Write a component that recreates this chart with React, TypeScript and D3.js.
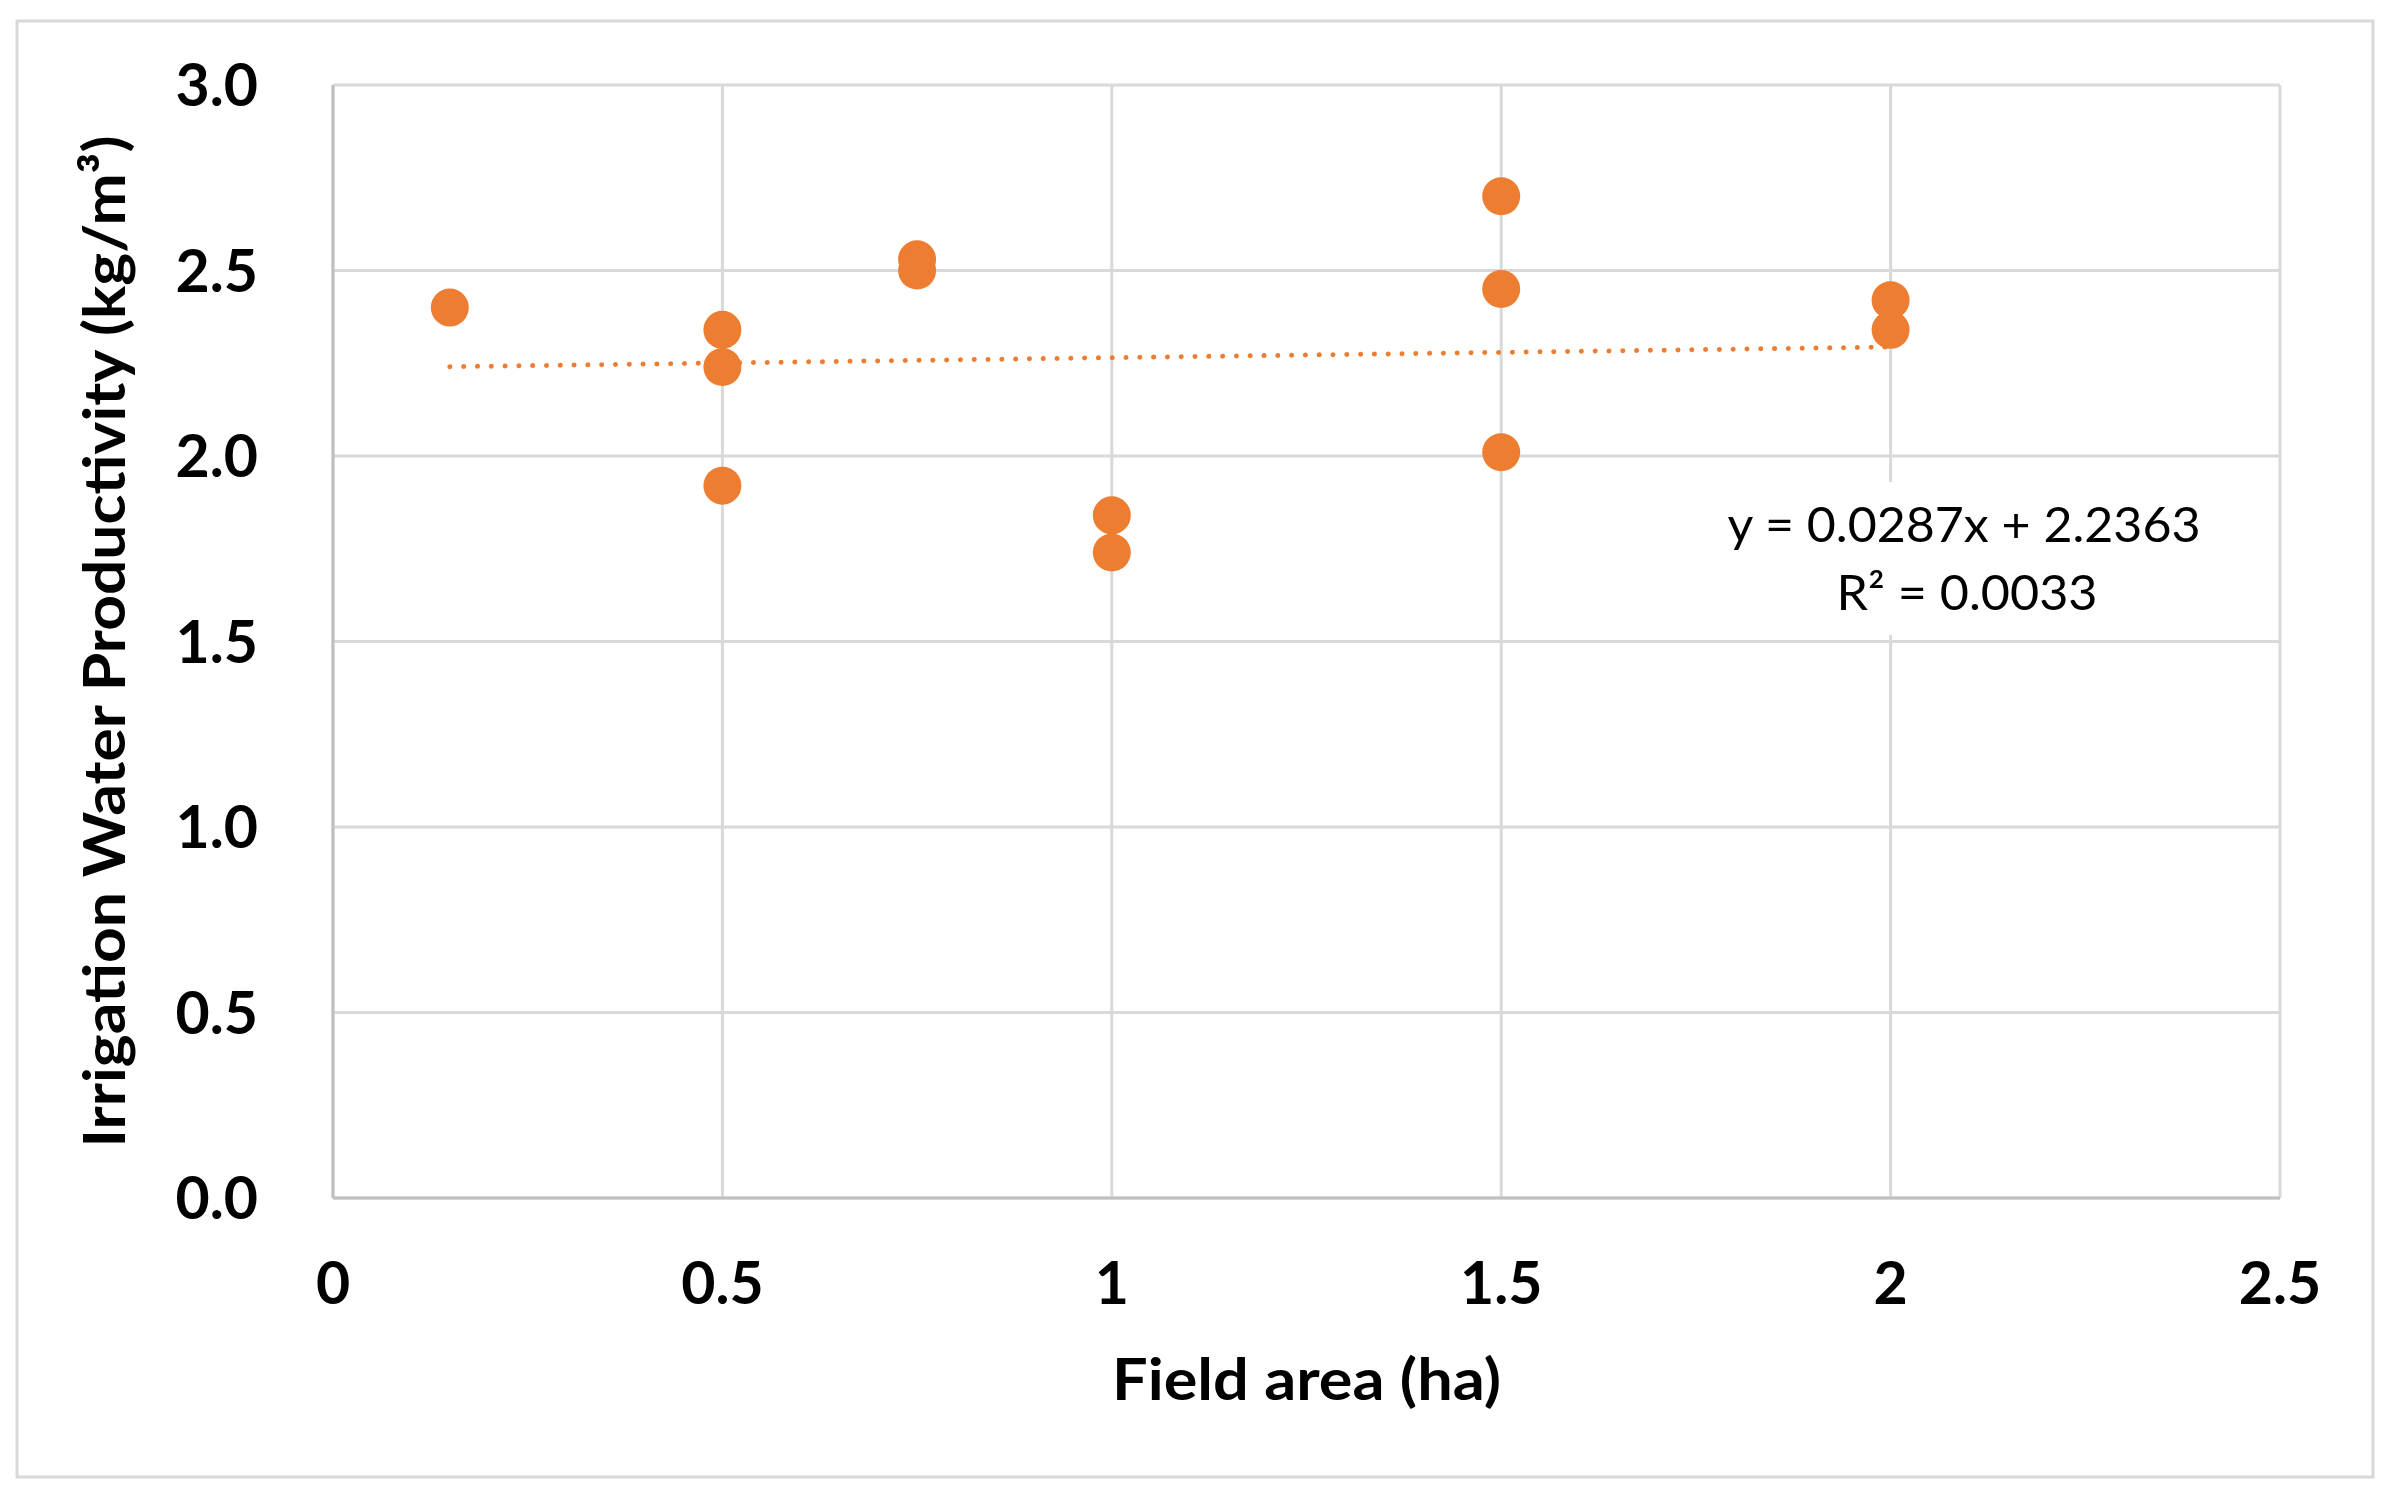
import React from "react";
import * as d3 from "d3";

// field area (ha) and irrigation water productivity (kg/m³)
const fieldArea = [0.15, 0.5, 0.5, 0.5, 0.75, 0.75, 1, 1, 1.5, 1.5, 1.5, 2, 2];
const productivity = [2.4, 2.34, 2.24, 1.92, 2.53, 2.5, 1.84, 1.74, 2.7, 2.45, 2.01, 2.42, 2.34];

const xTicks = [0, 0.5, 1, 1.5, 2, 2.5];
const yTicks = [0, 0.5, 1, 1.5, 2, 2.5, 3];

// linear trendline as reported in the chart
const trendSlope = 0.0287;
const trendIntercept = 2.2363;
const trendR2 = 0.0033;

const W = 2390;
const H = 1498;
const plot = { left: 333, right: 2280, top: 85, bottom: 1198 };
const orange = "#ED7D31";
const grid = "#d9d9d9";
const font = "Lato, 'Open Sans', sans-serif";

export default function App() {
  const x = d3.scaleLinear().domain([0, 2.5]).range([plot.left, plot.right]);
  const y = d3.scaleLinear().domain([0, 3]).range([plot.bottom, plot.top]);

  const xMin = d3.min(fieldArea) as number;
  const xMax = d3.max(fieldArea) as number;
  const trend = d3
    .line<number>()
    .x((v) => x(v))
    .y((v) => y(trendSlope * v + trendIntercept));

  const fmtY = d3.format(".1f");
  const fmtX = (v: number) => String(v);

  return (
    <div style={{ position: "absolute", left: 0, top: 0 }}>
      <svg width={W} height={H} style={{ display: "block", background: "#fff" }}>
        {/* chart frame */}
        <rect x={17} y={21} width={2356} height={1456} fill="#fff" stroke={grid} strokeWidth={3} />

        {/* gridlines */}
        <g stroke={grid} strokeWidth={3}>
          {yTicks.map((t) => (
            <line key={`y${t}`} x1={plot.left} x2={plot.right} y1={y(t)} y2={y(t)} />
          ))}
          {xTicks.map((t) => (
            <line key={`x${t}`} x1={x(t)} x2={x(t)} y1={plot.top} y2={plot.bottom} />
          ))}
        </g>

        {/* axes */}
        <g stroke="#bfbfbf" strokeWidth={3}>
          <line x1={plot.left} x2={plot.right} y1={plot.bottom} y2={plot.bottom} />
          <line x1={plot.left} x2={plot.left} y1={plot.top} y2={plot.bottom} />
        </g>

        {/* trendline */}
        <path
          d={trend([xMin, xMax]) ?? ""}
          fill="none"
          stroke={orange}
          strokeWidth={5}
          strokeLinecap="round"
          strokeDasharray="0.1 13.7"
        />

        {/* points */}
        <g fill={orange}>
          {fieldArea.map((a, i) => (
            <circle key={i} cx={x(a)} cy={y(productivity[i])} r={19} />
          ))}
        </g>

        {/* trendline label */}
        <rect x={1715} y={482} width={500} height={153} fill="#fff" />
        <g fontFamily={font} fontSize={49} fill="#000" textAnchor="middle">
          <text x={1964} y={542} textLength={473} lengthAdjust="spacingAndGlyphs">
            {`y = ${trendSlope}x + ${trendIntercept}`}
          </text>
          <text x={1967} y={610} textLength={261} lengthAdjust="spacingAndGlyphs">
            {`R² = ${trendR2}`}
          </text>
        </g>

        {/* tick labels */}
        <g fontFamily={font} fontWeight="bold" fontSize={59} fill="#000">
          {yTicks.map((t) => (
            <text key={`yl${t}`} x={258} y={y(t)} dy="0.36em" textAnchor="end">
              {fmtY(t)}
            </text>
          ))}
          {xTicks.map((t) => (
            <text key={`xl${t}`} x={x(t)} y={1304} textAnchor="middle">
              {fmtX(t)}
            </text>
          ))}
        </g>

        {/* axis titles */}
        <g fontFamily={font} fontWeight="bold" fontSize={57} fill="#000" textAnchor="middle">
          <text x={(plot.left + plot.right) / 2} y={1400} textLength={389} lengthAdjust="spacingAndGlyphs">
            Field area (ha)
          </text>
          <text
            transform={`translate(125, ${(plot.top + plot.bottom) / 2}) rotate(-90)`}
            textLength={1012}
            lengthAdjust="spacingAndGlyphs"
          >
            Irrigation Water Productivity (kg/m³)
          </text>
        </g>
      </svg>
    </div>
  );
}
